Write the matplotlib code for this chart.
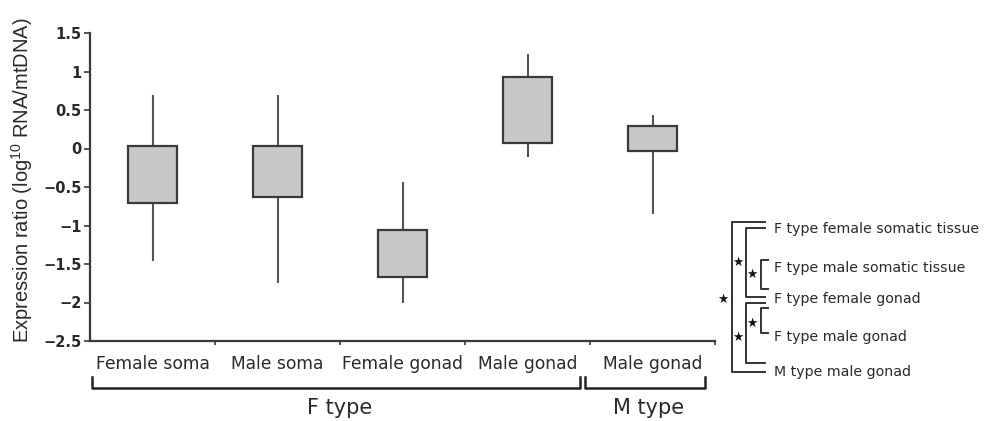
import matplotlib
matplotlib.use("Agg")
import matplotlib.pyplot as plt
from matplotlib.lines import Line2D
from matplotlib.ticker import FixedLocator, FuncFormatter
import matplotlib.transforms as mtransforms

# expression ratio per tissue, log10 scale
categories = ["Female soma", "Male soma", "Female gonad", "Male gonad", "Male gonad"]
box_top = [0.03, 0.03, -1.06, 0.93, 0.29]
box_bottom = [-0.71, -0.635, -1.67, 0.075, -0.03]
whisker_high = [0.69, 0.69, -0.43, 1.23, 0.44]
whisker_low = [-1.46, -1.75, -2.0, -0.115, -0.85]

# mitochondrial type groups: (label, first category, last category)
groups = [("F type", 0, 3), ("M type", 4, 4)]

# pairwise comparisons shown on the right
comparison_labels = [
    "F type female somatic tissue",
    "F type male somatic tissue",
    "F type female gonad",
    "F type male gonad",
    "M type male gonad",
]

TEXT = "#2a2a2a"
EDGE = "#3a3a3a"
FILL = "#c8c8c8"

fig = plt.figure(figsize=(9.9, 4.21), dpi=100)
ax = fig.add_axes([90 / 990, 80 / 421, 625 / 990, 308 / 421])

x = list(range(len(categories)))
heights = [t - b for t, b in zip(box_top, box_bottom)]
ax.vlines(x, whisker_low, whisker_high, color="#555555", lw=1.5, zorder=1)
ax.bar(x, heights, bottom=box_bottom, width=0.39, color=FILL,
       edgecolor=EDGE, linewidth=1.6, zorder=2)

ax.set_xlim(-0.5, len(categories) - 0.5)
ax.set_ylim(-2.5, 1.5)
ax.set_yticks([-2.5 + 0.5 * i for i in range(9)])
ax.yaxis.set_major_formatter(FuncFormatter(lambda v, p: f"{v:g}".replace("-", "\u2212")))
ax.tick_params(axis="y", direction="out", length=4, width=1.2, color=EDGE,
               labelsize=10.5, labelcolor=TEXT, pad=2)
for lab in ax.get_yticklabels():
    lab.set_fontweight("bold")

ax.set_xticks(x)
ax.set_xticklabels(categories)
ax.xaxis.set_minor_locator(FixedLocator([i + 0.5 for i in x]))
ax.tick_params(axis="x", which="major", length=0, labelsize=12.3,
               labelcolor=TEXT, pad=10)
ax.tick_params(axis="x", which="minor", direction="out", length=3,
               width=1.2, color=EDGE)

for side in ("top", "right"):
    ax.spines[side].set_visible(False)
for side in ("left", "bottom"):
    ax.spines[side].set_color(EDGE)
    ax.spines[side].set_linewidth(1.6)

fig.text(22 / 990, 1 - 180 / 421,
         r"Expression ratio (log$^{\mathregular{10}}$ RNA/mtDNA)",
         rotation=90, ha="center", va="center", fontsize=14.5,
         family="Liberation Sans", color=TEXT)

# group brackets under the category labels
trans = mtransforms.blended_transform_factory(ax.transData, ax.transAxes)
y_hi, y_lo = -0.117, -0.153
for name, first, last in groups:
    x0 = first - 0.484 if first == 0 else first - 0.54
    x1 = last + 0.42
    ax.add_line(Line2D([x0, x0, x1, x1], [y_hi, y_lo, y_lo, y_hi],
                       transform=trans, color="#222222", lw=1.8,
                       clip_on=False))
    ax.text((x0 + x1) / 2 + 0.03, -0.218, name, transform=trans,
            ha="center", va="center", fontsize=15, color=TEXT)

# comparison brackets in the right margin (pixel positions)
def fx(px):
    return px / 990


def fy(py):
    return 1 - py / 421


row_y = [229, 268, 299, 337, 372]
for label, py in zip(comparison_labels, row_y):
    fig.text(fx(774), fy(py), label, ha="left", va="center",
             fontsize=10.2, color=TEXT)


def bracket(xv, xe, top, bottom):
    fig.add_artist(Line2D([fx(xe), fx(xv), fx(xv), fx(xe)],
                          [fy(top), fy(top), fy(bottom), fy(bottom)],
                          color="#333333", lw=1.4))


def star(px, py):
    fig.text(fx(px), fy(py), "\u2605", ha="center", va="center",
             fontsize=9, color="#111111")


bracket(732, 765, 222, 372)
bracket(746, 765, 228, 297)
bracket(761, 768, 260, 289)
bracket(746, 765, 303, 363)
bracket(761, 768, 308, 333)
star(723, 299)
star(738, 262)
star(752, 274)
star(738, 337)
star(752, 323)

fig.savefig("out.png", dpi=100)
